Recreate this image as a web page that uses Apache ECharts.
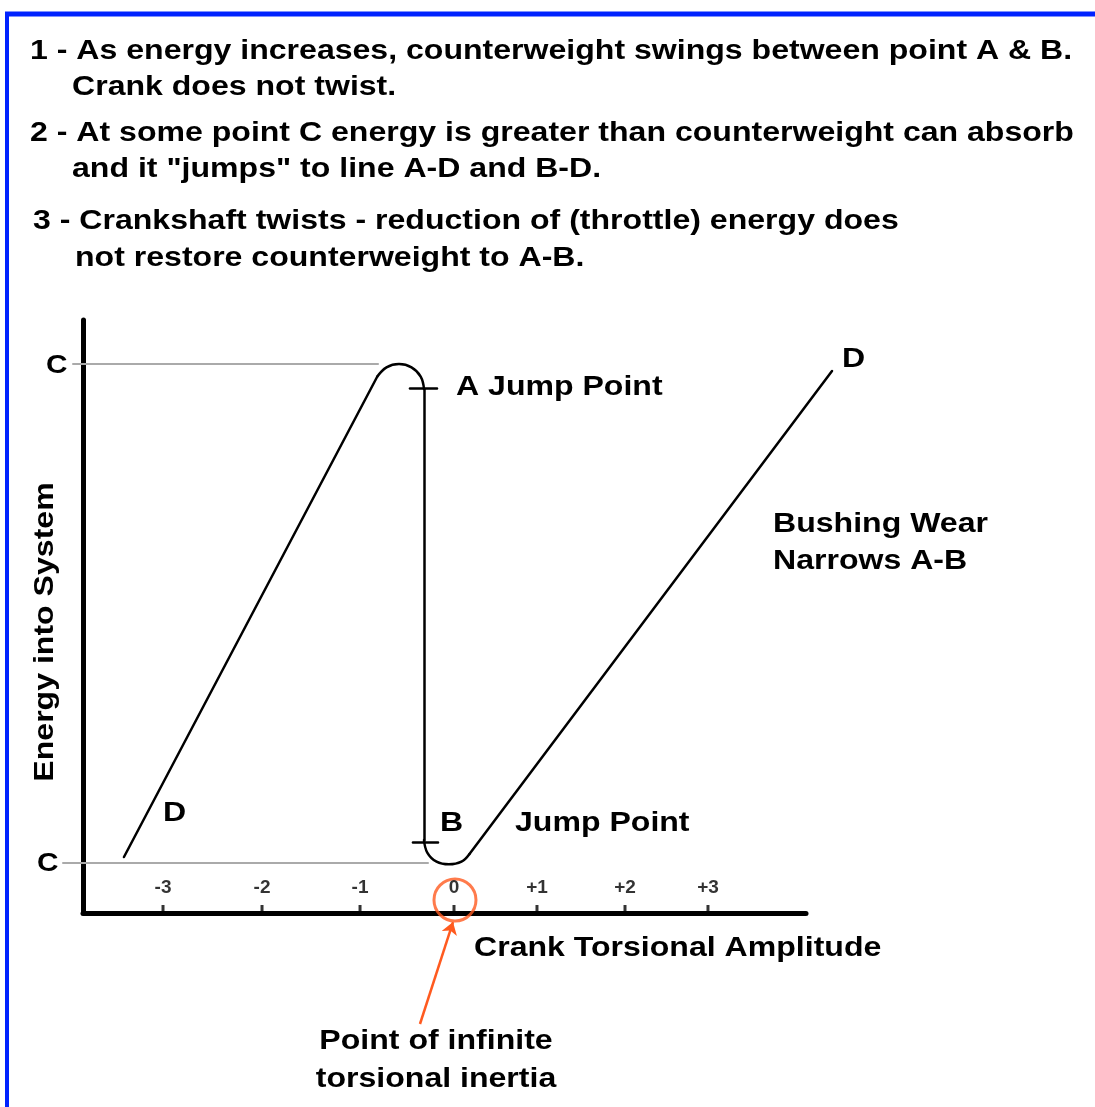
<!DOCTYPE html>
<html>
<head>
<meta charset="utf-8">
<script src="https://cdn.jsdelivr.net/npm/echarts@6/dist/echarts.min.js"></script>
<style>
  html, body { margin: 0; padding: 0; background: #fff; }
  #chart { width: 1095px; height: 1107px; }
</style>
</head>
<body>
<div id="chart"></div>
<script>
// amplitude units (0 = infinite inertia point), energy 0..100
const xTicks = [-3.233, -2.133, -1.044, 0, 0.922, 1.9, 2.822]
const xTickLabels = ['-3', '-2', '-1', '0', '+1', '+2', '+3']

const leftLine = [[-3.667, 9.44], [-0.852, 90.47]]
const topArc = [[-0.852, 90.47], [-0.75, 92.02], [-0.611, 92.58], [-0.472, 92.02], [-0.37, 90.47], [-0.333, 88.36]]
const jumpLine = [[-0.333, 88.36], [-0.333, 12.31]]
const bottomArc = [[-0.333, 12.31], [-0.297, 10.2], [-0.194, 8.65], [-0.056, 8.2], [0.083, 8.65], [0.172, 9.95]]
const rightLine = [[0.172, 9.95], [4.2, 91.4]]

const markA = [[-0.489, 88.53], [-0.189, 88.53]]
const markB = [[-0.456, 11.97], [-0.178, 11.97]]
const cHigh = [[-4.233, 92.58], [-0.844, 92.58]]
const cLow = [[-4.344, 8.43], [-0.289, 8.43]]

const inertiaPoint = [0.011, 2.19]
const arrowLine = [[-0.378, -18.72], [-0.011, -1.52]]

const headerLines = [
  { text: '1 - As energy increases, counterweight swings between point A & B.', x: 30, y: 51 },
  { text: 'Crank does not twist.', x: 72, y: 87 },
  { text: '2 - At some point C energy is greater than counterweight can absorb', x: 30, y: 133 },
  { text: 'and it "jumps" to line A-D and B-D.', x: 72, y: 169 },
  { text: '3 - Crankshaft twists - reduction of (throttle) energy does', x: 33, y: 221 },
  { text: 'not restore counterweight to A-B.', x: 75, y: 258 }
]

const FONT = '"Liberation Sans", Arial, sans-serif'
const ORANGE = '#ff5a1f'
const SX = 1.145

const chart = echarts.init(document.getElementById('chart'))

const txt = (text, x, y, size, align, extra) => Object.assign({
  type: 'text',
  x, y,
  scaleX: SX,
  style: {
    text,
    font: `bold ${size}px ${FONT}`,
    fill: '#000',
    align: align || 'left',
    textAlign: align || 'left',
    verticalAlign: 'middle',
    textVerticalAlign: 'middle'
  }
}, extra || {})

const curve = (data) => ({
  type: 'line',
  data,
  smooth: 0.4,
  symbol: 'none',
  silent: true,
  lineStyle: { color: '#000', width: 2.5, cap: 'round', join: 'round' }
})

const straight = (segs, color, width) => ({
  type: 'lines',
  coordinateSystem: 'cartesian2d',
  clip: false,
  silent: true,
  data: segs.map(s => ({ coords: s })),
  lineStyle: { color, width, opacity: 1, curveness: 0, cap: 'round' }
})

const graphics = headerLines.map(l => txt(l.text, l.x, l.y, 28))
graphics.push(
  { type: 'line', shape: { x1: 7, y1: 14, x2: 7, y2: 1107 }, style: { stroke: '#0022ff', lineWidth: 4 } },
  { type: 'line', shape: { x1: 5, y1: 14, x2: 1095, y2: 14 }, style: { stroke: '#0022ff', lineWidth: 5 } },
  txt('C', 46, 366, 26),
  txt('C', 37, 864, 26),
  txt('A Jump Point', 456, 387, 28),
  txt('B', 440, 823, 28),
  txt('Jump Point', 515, 823, 28),
  txt('D', 163, 813, 28),
  txt('D', 842, 359, 28),
  txt('Bushing Wear', 773, 524, 28),
  txt('Narrows A-B', 773, 561, 28),
  txt('Crank Torsional Amplitude', 474, 948, 28),
  txt('Point of infinite', 436, 1041, 28, 'center'),
  txt('torsional inertia', 436, 1079, 28, 'center'),
  txt('Energy into System', 45, 632, 28, 'center', { rotation: Math.PI / 2 })
)

chart.setOption({
  animation: false,
  backgroundColor: '#fff',
  grid: { left: 83, right: 289, top: 320, bottom: 194 },
  xAxis: {
    type: 'value',
    min: -4.122,
    max: 3.911,
    axisLine: { show: true, onZero: false, lineStyle: { color: '#000', width: 5 } },
    axisTick: { show: false },
    axisLabel: { show: false },
    splitLine: { show: false }
  },
  yAxis: {
    type: 'value',
    min: 0,
    max: 100,
    axisLine: { show: true, onZero: false, lineStyle: { color: '#000', width: 5 } },
    axisTick: { show: false },
    axisLabel: { show: false },
    splitLine: { show: false }
  },
  graphic: graphics,
  series: [
    straight([cHigh, cLow], '#aaaaaa', 2),
    straight([leftLine, jumpLine, rightLine, markA, markB], '#000', 2.5),
    curve(topArc),
    curve(bottomArc),
    {
      type: 'scatter',
      silent: true,
      clip: false,
      data: xTicks.map(v => [v, 0]),
      symbol: 'rect',
      symbolSize: [3, 8],
      symbolOffset: [0, -4],
      itemStyle: { color: '#000' }
    },
    {
      type: 'scatter',
      silent: true,
      clip: false,
      data: xTicks.map((v, i) => ({ value: [v, 4.2], name: xTickLabels[i] })),
      symbolSize: 0,
      label: {
        show: true,
        position: 'inside',
        formatter: p => p.name,
        color: '#000',
        fontFamily: FONT,
        fontWeight: 'bold',
        fontSize: 19
      }
    },
    {
      type: 'scatter',
      silent: true,
      clip: false,
      data: [inertiaPoint],
      symbol: 'circle',
      symbolSize: 42,
      itemStyle: { color: 'rgba(0,0,0,0)', borderColor: ORANGE, borderWidth: 3 }
    },
    {
      type: 'lines',
      coordinateSystem: 'cartesian2d',
      clip: false,
      silent: true,
      data: [{ coords: arrowLine }],
      symbol: ['none', 'arrow'],
      symbolSize: 12,
      lineStyle: { color: ORANGE, width: 2.5, opacity: 1, curveness: 0 }
    }
  ]
})
</script>
</body>
</html>
